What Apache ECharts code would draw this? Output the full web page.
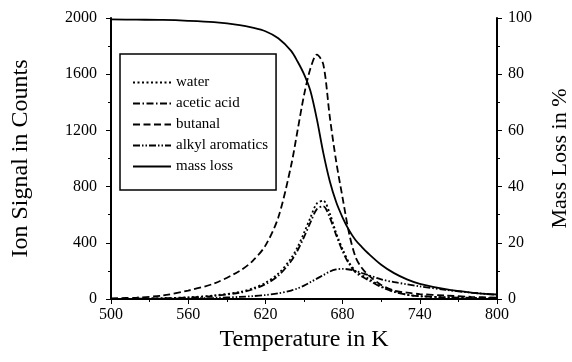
<!DOCTYPE html>
<html><head><meta charset="utf-8">
<script src="https://cdn.jsdelivr.net/npm/echarts@6/dist/echarts.min.js"></script>
<style>html,body{margin:0;padding:0;background:#fff}#c{width:572px;height:362px}</style>
</head><body><div id="c"></div>
<script>
const temps = [500,520,540,560,580,600,610,620,630,640,645,650,655,660,665,670,675,680,685,690,695,700,710,720,730,740,760,780,800];
const water = [0,2,5,12,25,50,75,115,180,290,370,470,580,680,700,610,470,355,260,200,170,145,90,55,30,20,12,8,5];
const aceticAcid = [0,2,5,10,22,45,68,105,165,270,345,440,545,640,660,580,455,340,250,190,160,135,85,50,30,20,12,8,5];
const butanal = [5,10,25,60,110,200,270,380,580,950,1200,1450,1640,1740,1670,1300,980,720,470,300,220,170,100,60,45,35,25,15,10];
const alkylAromatics = [0,0,2,4,8,15,20,28,40,60,75,95,120,145,170,195,210,215,210,200,185,170,140,120,105,90,65,45,30];
const massLoss = [99.5,99.4,99.3,99,98.5,97.5,96.6,95.3,92.8,88.3,84.5,80,74,64,52,42,34.5,29,24.5,21,18.5,16.2,12.2,9.2,7,5.4,3.5,2.3,1.6];
const xTicks = {min:500, max:800, interval:60};
const leftTicks = {min:0, max:2000, interval:400};
const rightTicks = {min:0, max:100, interval:20};

const pair = arr => temps.map((t,i)=>[t,arr[i]]);
const font = 'Liberation Serif';
const mk = (name, arr, dash, yi) => ({
  name, type:'line', data:pair(arr), yAxisIndex:yi||0, smooth:0.3, symbol:'none', showSymbol:false,
  lineStyle:{color:'#000', width:1.8, type:dash}, itemStyle:{color:'#000'}, z: 3
});
const chart = echarts.init(document.getElementById('c'));
const label = m => ({color:'#000', fontFamily:font, fontSize:16, margin:m, formatter: v => String(v)});
const axisCommon = {
  axisLine:{show:true, lineStyle:{color:'#000', width:2}},
  axisTick:{show:true, length:5, lineStyle:{color:'#000', width:1}},
  minorTick:{show:true, splitNumber:2, length:3, lineStyle:{color:'#000', width:1}},
  splitLine:{show:false},
  axisLabel:label(8),
  nameTextStyle:{color:'#000', fontFamily:font, fontSize:24}
};
chart.setOption({
  animation:false,
  backgroundColor:'#fff',
  grid:{left:111, right:75, top:18, bottom:63, containLabel:false, outerBoundsMode:'none'},
  legend:{
    orient:'vertical', left:120, top:54,
    padding:[21,8,16,12], itemGap:6, itemWidth:38, itemHeight:14,
    borderColor:'#000', borderWidth:1.5, backgroundColor:'#fff',
    itemStyle:{opacity:0, borderWidth:0},
    textStyle:{color:'#000', fontFamily:font, fontSize:15},
    data:['water','acetic acid','butanal','alkyl aromatics','mass loss']
  },
  xAxis:Object.assign({}, axisCommon, {
    type:'value', min:xTicks.min, max:xTicks.max, interval:xTicks.interval,
    name:'Temperature in K', nameLocation:'middle', nameGap:27
  }),
  yAxis:[
    Object.assign({}, axisCommon, {
      type:'value', min:leftTicks.min, max:leftTicks.max, interval:leftTicks.interval,
      name:'Ion Signal in Counts', nameLocation:'middle', nameRotate:90, nameGap:78,
      axisLabel:label(14)
    }),
    Object.assign({}, axisCommon, {
      type:'value', position:'right', min:rightTicks.min, max:rightTicks.max, interval:rightTicks.interval,
      name:'Mass Loss in %', nameLocation:'middle', nameRotate:90, nameGap:52,
      axisLabel:label(11),
      nameTextStyle:{color:'#000', fontFamily:font, fontSize:22}
    })
  ],
  series:[
    mk('water', water, [2,2.5]),
    mk('acetic acid', aceticAcid, [7,2.5,1.5,2.5]),
    mk('butanal', butanal, [7,3.5]),
    mk('alkyl aromatics', alkylAromatics, [7,2,1.5,2,1.5,2]),
    mk('mass loss', massLoss, 'solid', 1)
  ]
});
</script></body></html>
